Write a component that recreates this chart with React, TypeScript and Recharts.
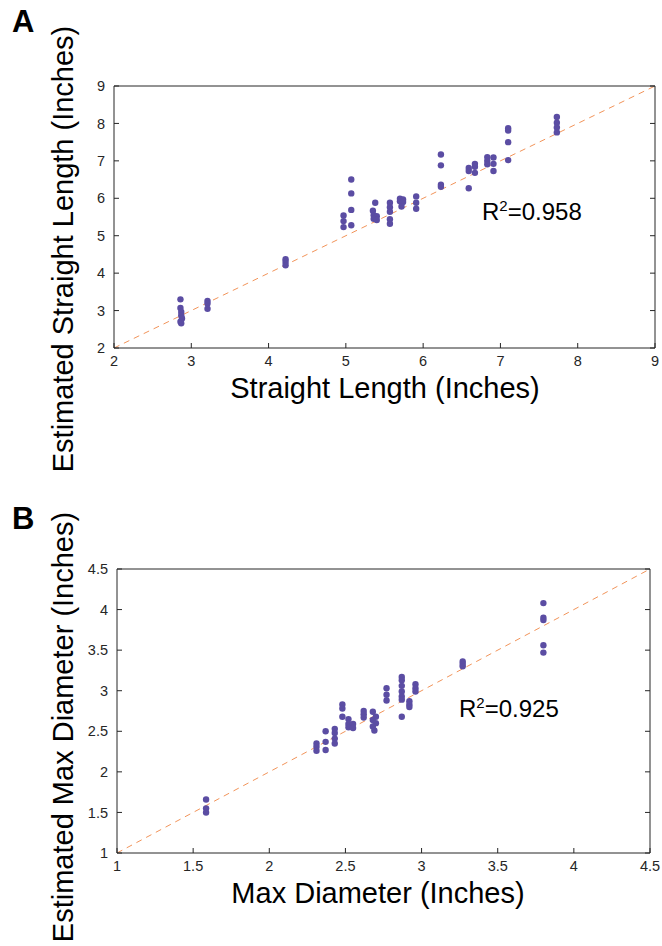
import React from 'react';
import { ScatterChart, Scatter, XAxis, YAxis, ReferenceLine } from 'recharts';

const FONT = '"Liberation Sans", Arial, Helvetica, sans-serif';
const DOT = '#5B4DA3';
const DIAG = '#F2945A';
const AXIS = '#262626';

// Panel A: straight length
const lengthTicks = [2, 3, 4, 5, 6, 7, 8, 9];
const lengthActual = [
  2.86, 2.86, 2.87, 2.87, 2.88, 2.86, 2.87,
  3.21, 3.21, 3.21,
  4.22, 4.22, 4.22,
  4.97, 4.97, 4.97,
  5.07, 5.07, 5.07, 5.07,
  5.38, 5.35, 5.36, 5.40, 5.36, 5.40,
  5.57, 5.57, 5.57, 5.57, 5.57,
  5.70, 5.74, 5.70, 5.74, 5.72,
  5.91, 5.91, 5.91,
  6.23, 6.23, 6.23, 6.23,
  6.59, 6.59, 6.59,
  6.67, 6.67, 6.67,
  6.83, 6.83, 6.83,
  6.91, 6.91, 6.91,
  7.10, 7.10, 7.10, 7.10,
  7.73, 7.73, 7.73, 7.73,
];
const lengthEstimated = [
  3.30, 3.07, 2.96, 2.87, 2.79, 2.70, 2.66,
  3.26, 3.19, 3.05,
  4.37, 4.30, 4.21,
  5.54, 5.39, 5.23,
  6.50, 6.13, 5.69, 5.28,
  5.88, 5.67, 5.55, 5.52, 5.45, 5.42,
  5.88, 5.76, 5.64, 5.44, 5.32,
  5.99, 5.97, 5.92, 5.90, 5.78,
  6.05, 5.88, 5.72,
  7.17, 6.88, 6.36, 6.31,
  6.81, 6.73, 6.27,
  6.92, 6.84, 6.68,
  7.10, 7.00, 6.91,
  7.09, 6.92, 6.73,
  7.87, 7.81, 7.50, 7.02,
  8.17, 8.02, 7.89, 7.76,
];

// Panel B: max diameter
const diameterTicks = [1, 1.5, 2, 2.5, 3, 3.5, 4, 4.5];
const diameterActual = [
  1.585, 1.585, 1.585,
  2.31, 2.31, 2.31,
  2.37, 2.37, 2.37,
  2.43, 2.43, 2.43, 2.43,
  2.48, 2.48, 2.48,
  2.52, 2.52, 2.52,
  2.55, 2.55,
  2.62, 2.62, 2.62,
  2.68, 2.70, 2.68, 2.70, 2.68, 2.69,
  2.77, 2.77, 2.77,
  2.87, 2.87, 2.87, 2.87, 2.87, 2.87, 2.87,
  2.92, 2.92, 2.92,
  2.96, 2.96, 2.96,
  3.27, 3.27, 3.27,
  3.80, 3.80, 3.80, 3.80, 3.80,
];
const diameterEstimated = [
  1.66, 1.55, 1.50,
  2.35, 2.31, 2.26,
  2.50, 2.37, 2.27,
  2.53, 2.48, 2.41, 2.35,
  2.83, 2.78, 2.68,
  2.65, 2.59, 2.55,
  2.59, 2.54,
  2.75, 2.71, 2.67,
  2.74, 2.68, 2.64, 2.60, 2.56, 2.51,
  3.03, 2.95, 2.88,
  3.17, 3.13, 3.06, 2.99, 2.93, 2.89, 2.68,
  2.87, 2.83, 2.80,
  3.08, 3.03, 2.99,
  3.36, 3.33, 3.30,
  4.08, 3.90, 3.87, 3.56, 3.47,
];

const lengthData = lengthActual.map((x, i) => ({ x, y: lengthEstimated[i] }));
const diameterData = diameterActual.map((x, i) => ({ x, y: diameterEstimated[i] }));

function Dot(props: any) {
  const { cx, cy } = props;
  if (cx == null || cy == null) return null;
  return <circle cx={cx} cy={cy} r={3.2} fill={DOT} />;
}

const tickStyle = { fill: AXIS, fontSize: 14.5, fontFamily: FONT };

function Panel(props: {
  data: { x: number; y: number }[];
  ticks: number[];
  domain: [number, number];
  height: number;
  margin: { top: number; right: number; bottom: number; left: number };
}) {
  const { data, ticks, domain, height, margin } = props;
  return (
    <ScatterChart width={662} height={height} margin={margin}>
      <XAxis
        xAxisId="b"
        dataKey="x"
        type="number"
        domain={domain}
        ticks={ticks}
        interval={0}
        orientation="bottom"
        height={30}
        tickSize={-5}
        tickMargin={13}
        stroke={AXIS}
        tick={tickStyle}
        allowDataOverflow
      />
      <XAxis
        xAxisId="t"
        type="number"
        domain={domain}
        ticks={ticks}
        interval={0}
        orientation="top"
        height={1}
        tickSize={-5}
        stroke={AXIS}
        tickFormatter={() => ''}
        allowDataOverflow
      />
      <YAxis
        yAxisId="l"
        dataKey="y"
        type="number"
        domain={domain}
        ticks={ticks}
        interval={0}
        orientation="left"
        width={40}
        tickSize={-5}
        tickMargin={14}
        stroke={AXIS}
        tick={tickStyle}
        allowDataOverflow
      />
      <YAxis
        yAxisId="r"
        type="number"
        domain={domain}
        ticks={ticks}
        interval={0}
        orientation="right"
        width={1}
        tickSize={-5}
        stroke={AXIS}
        tickFormatter={() => ''}
        allowDataOverflow
      />
      <ReferenceLine
        xAxisId="b"
        yAxisId="l"
        segment={[
          { x: domain[0], y: domain[0] },
          { x: domain[1], y: domain[1] },
        ]}
        stroke={DIAG}
        strokeWidth={1}
        strokeDasharray="6 5"
      />
      <Scatter
        xAxisId="b"
        yAxisId="l"
        data={data}
        shape={Dot}
        isAnimationActive={false}
      />
    </ScatterChart>
  );
}

export default function App() {
  return (
    <div
      style={{
        position: 'absolute',
        left: 0,
        top: 0,
        width: 662,
        height: 946,
        background: '#fff',
        fontFamily: FONT,
      }}
    >
      <div style={{ position: 'absolute', left: 0, top: 0 }}>
        <Panel
          data={lengthData}
          ticks={lengthTicks}
          domain={[2, 9]}
          height={480}
          margin={{ top: 85, right: 6, bottom: 102, left: 74 }}
        />
      </div>
      <div style={{ position: 'absolute', left: 0, top: 480 }}>
        <Panel
          data={diameterData}
          ticks={diameterTicks}
          domain={[1, 4.5]}
          height={466}
          margin={{ top: 88, right: 11, bottom: 63, left: 77 }}
        />
      </div>
      <svg
        width={662}
        height={946}
        style={{ position: 'absolute', left: 0, top: 0, pointerEvents: 'none' }}
      >
        <g fontFamily={FONT} fill="#000">
          <text x={12} y={32} fontSize={31} fontWeight="bold">A</text>
          <text x={12} y={529} fontSize={31} fontWeight="bold">B</text>
          <text x={385} y={398} fontSize={29} textAnchor="middle">Straight Length (Inches)</text>
          <text transform="translate(73,249) rotate(-90)" fontSize={29} textAnchor="middle">
            Estimated Straight Length (Inches)
          </text>
          <text x={378} y={903} fontSize={29} textAnchor="middle">Max Diameter (Inches)</text>
          <text transform="translate(73,727) rotate(-90)" fontSize={29} textAnchor="middle">
            Estimated Max Diameter (Inches)
          </text>
          <text x={482} y={220} fontSize={24}>
            R<tspan fontSize={15} dy={-9}>2</tspan><tspan dy={9}>=0.958</tspan>
          </text>
          <text x={459} y={717} fontSize={24}>
            R<tspan fontSize={15} dy={-9}>2</tspan><tspan dy={9}>=0.925</tspan>
          </text>
        </g>
      </svg>
    </div>
  );
}
